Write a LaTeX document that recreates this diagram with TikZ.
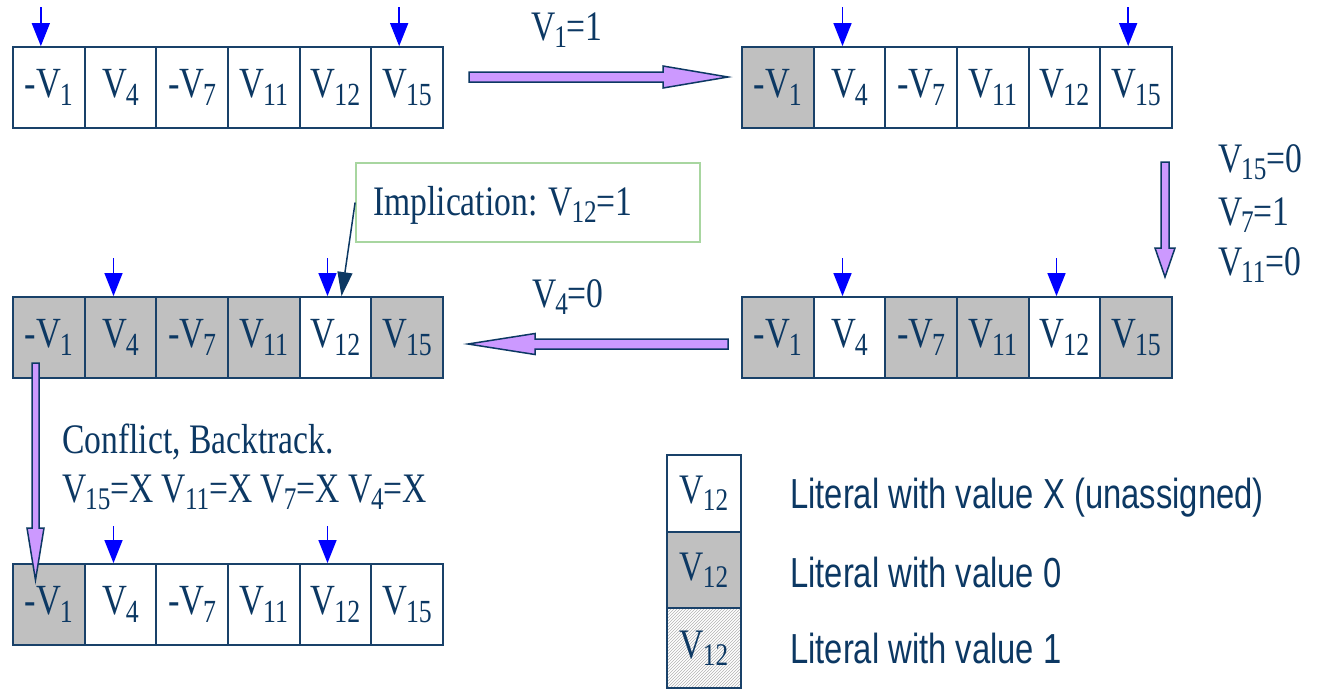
\documentclass[tikz,border=0pt]{standalone}
\usepackage{fontspec}
\setmainfont{Liberation Serif}[FakeStretch=0.8]
\setsansfont{Liberation Sans}[FakeStretch=0.78]
\usepackage{graphicx}
\usetikzlibrary{arrows.meta,patterns}
\definecolor{navy}{RGB}{12,56,99}
\definecolor{cellline}{RGB}{25,65,105}
\definecolor{cellgray}{RGB}{192,192,192}
\definecolor{fatpurple}{RGB}{204,153,255}
\definecolor{impgreen}{RGB}{168,214,160}
\newcommand\Vs[1]{V\kern-0.03em\raisebox{-0.17em}{\scalebox{0.75}{#1}}}
\newcommand\litrow[9]{%
  \node[cell,fill=#4] (#1-1) at (#2+35.83,#3) {-\Vs{1}};
  \node[cell,fill=#5] (#1-2) at (#2+107.5,#3) {\Vs{4}};
  \node[cell,fill=#6] (#1-3) at (#2+179.17,#3) {-\Vs{7}};
  \node[cell,fill=#7] (#1-4) at (#2+250.83,#3) {\Vs{11}};
  \node[cell,fill=#8] (#1-5) at (#2+322.5,#3) {\Vs{12}};
  \node[cell,fill=#9] (#1-6) at (#2+394.17,#3) {\Vs{15}};
}
\begin{document}
\begin{tikzpicture}[x=1pt,y=-1pt,
  cell/.style={draw=cellline, line width=1.8pt, minimum width=71.67pt, minimum height=81pt, inner sep=0pt, text=navy, font=\fontsize{43}{43}\selectfont},
  lbl/.style={text=navy, font=\fontsize{42}{44}\selectfont, inner sep=0pt},
  leg/.style={text=navy, font=\sffamily\fontsize{42}{44}\selectfont, inner sep=0pt, anchor=base west},
  ptr/.style={draw=blue, line width=1.5pt, -{Triangle[length=23pt,width=18pt]}},
  fat/.style={draw=navy, fill=fatpurple, line width=1.5pt, line join=miter},
  impl/.style={draw=navy, line width=1.5pt, -{Triangle[length=24pt,width=15pt]}},
  legbox/.style={draw=cellline, line width=1.8pt, minimum width=74pt, inner sep=0pt, text=navy, font=\fontsize{42}{42}\selectfont}
]
\path[use as bounding box] (0,0) rectangle (1317,689);

% rows of literals
\litrow{a}{13}{87.5}{white}{white}{white}{white}{white}{white}
\litrow{b}{742}{87.5}{cellgray}{white}{white}{white}{white}{white}
\litrow{c}{742}{337.5}{cellgray}{white}{cellgray}{cellgray}{white}{cellgray}
\litrow{d}{13}{337.5}{cellgray}{cellgray}{cellgray}{cellgray}{white}{cellgray}
\litrow{e}{13}{604.5}{cellgray}{white}{white}{white}{white}{white}

% pointers
\draw[ptr] ([xshift=-8pt,yshift=39pt]a-1.north) -- ([xshift=-8pt]a-1.north);
\draw[ptr] ([xshift=-8pt,yshift=39pt]a-6.north) -- ([xshift=-8pt]a-6.north);
\draw[ptr] ([xshift=-7pt,yshift=39pt]b-2.north) -- ([xshift=-7pt]b-2.north);
\draw[ptr] ([xshift=-8pt,yshift=39pt]b-6.north) -- ([xshift=-8pt]b-6.north);
\draw[ptr] ([xshift=-7pt,yshift=38pt]c-2.north) -- ([xshift=-7pt]c-2.north);
\draw[ptr] ([xshift=-8pt,yshift=38pt]c-5.north) -- ([xshift=-8pt]c-5.north);
\draw[ptr] ([xshift=-7pt,yshift=38pt]d-2.north) -- ([xshift=-7pt]d-2.north);
\draw[ptr] ([xshift=-8pt,yshift=38pt]d-5.north) -- ([xshift=-8pt]d-5.north);
\draw[ptr] ([xshift=-7pt,yshift=37pt]e-2.north) -- ([xshift=-7pt]e-2.north);
\draw[ptr] ([xshift=-8pt,yshift=37pt]e-5.north) -- ([xshift=-8pt]e-5.north);

% fat arrows
\coordinate (f1) at (469,77);
\draw[fat] (f1) ++(0,-5) -- ++(194,0) -- ++(0,-6) -- ++(65,11) -- ++(-65,11) -- ++(0,-6) -- ++(-194,0) -- cycle;
\coordinate (f2) at (728,344);
\draw[fat] (f2) ++(0,-5) -- ++(-193,0) -- ++(0,-5.5) -- ++(-67,10.5) -- ++(67,10.5) -- ++(0,-5.5) -- ++(193,0) -- cycle;
\coordinate (f3) at (1165,162);
\draw[fat] (f3) ++(-4,0) -- ++(0,86) -- ++(-6,0) -- ++(10,29) -- ++(10,-29) -- ++(-6,0) -- ++(0,-86) -- cycle;
\coordinate (f4) at (35.5,363);
\draw[fat] (f4) ++(-3.5,0) -- ++(0,165) -- ++(-5,0) -- ++(8.5,52) -- ++(8.5,-52) -- ++(-5,0) -- ++(0,-165) -- cycle;

% labels
\node[lbl, anchor=base] (l1) at (567,40) {\Vs{1}=1};
\node[lbl, anchor=base west] (l2) at (1218,172) {\Vs{15}=0};
\node[lbl, anchor=base west] (l3) at (1218,225) {\Vs{7}=1};
\node[lbl, anchor=base west] (l4) at (1218,275) {\Vs{11}=0};
\node[lbl, anchor=base] (l5) at (568,307) {\Vs{4}=0};
\node[lbl, anchor=base west] (l6) at (62,453) {Conflict, Backtrack.};
\node[lbl, anchor=base west] (l7) at (62,502) {\Vs{15}=X \Vs{11}=X \Vs{7}=X \Vs{4}=X};

% implication box
\node[draw=impgreen, line width=1.8pt, minimum width=344pt, minimum height=79pt, inner sep=0pt] (imp) at (528,202.5) {};
\node[lbl, anchor=base west] (impt) at (373,215) {Implication: \Vs{12}=1};
\draw[impl] (imp.west) -- ([xshift=6pt]d-5.north);

% legend
\node[legbox, minimum height=77pt] (k1) at (704,493.5) {\Vs{12}};
\node[legbox, minimum height=76pt, fill=cellgray] (k2) at (704,570) {\Vs{12}};
\node[legbox, minimum height=80pt, pattern=north east lines, pattern color=gray!60] (k3) at (704,648) {\Vs{12}};
\node[leg] (t1) at (790,508) {Literal with value X (unassigned)};
\node[leg] (t2) at (790,587) {Literal with value 0};
\node[leg] (t3) at (790,663) {Literal with value 1};
\end{tikzpicture}
\end{document}
